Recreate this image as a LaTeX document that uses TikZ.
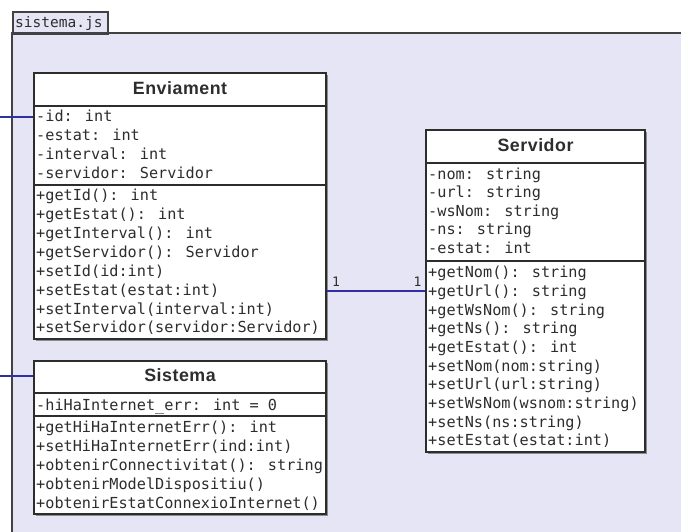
\documentclass[tikz,border=0pt]{standalone}
\usepackage{fontspec}
\newfontfamily\monof{DejaVu Sans Mono}
\newfontfamily\headf[LetterSpace=3]{Liberation Sans}
\definecolor{pkgfill}{RGB}{229,229,245}
\definecolor{assoc}{RGB}{48,48,160}
\definecolor{ink}{RGB}{45,45,45}
\tikzset{
  pkgline/.style={draw=ink!90, line width=1.6pt},
  classbox/.style={draw=ink, line width=1.3pt, fill=white, inner sep=0pt, rectangle},
  shadowbox/.style={fill=black!45, inner sep=0pt, rectangle},
  sepline/.style={draw=ink, line width=1.3pt},
  member/.style={anchor=base west, inner sep=0pt, text=ink, font=\monof\fontsize{15.2}{18}\selectfont},
  classname/.style={anchor=base, inner sep=0pt, text=ink, font=\headf\bfseries\fontsize{17.8}{20}\selectfont},
  multi/.style={anchor=base west, inner sep=0pt, text=ink, font=\monof\fontsize{13}{15}\selectfont},
  assocline/.style={draw=assoc, line width=1.4pt},
}
\begin{document}
\begin{tikzpicture}[x=1pt,y=-1pt]
\useasboundingbox (0,0) rectangle (681,532);
\fill[white] (0,0) rectangle (681,532);

% package sistema.js
\fill[pkgfill] (12,33) rectangle (681,532);
\node[pkgline, fill=pkgfill, rectangle, inner sep=0pt, minimum width=95pt, minimum height=22pt, anchor=north west] (tab) at (12,11) {};
\node[member, font=\monof\fontsize{14.5}{17}\selectfont] (tabname) at (15,28) {sistema.js};
\draw[pkgline] (681,33) -- (12,33) -- (12,532);

% class boxes with their drop shadows
\node[shadowbox, minimum width=292pt, minimum height=266pt] at (182,208) {};
\node[shadowbox, minimum width=292pt, minimum height=153pt] at (182,439.5) {};
\node[shadowbox, minimum width=219pt, minimum height=322pt] at (537.5,293) {};
\node[classbox, minimum width=292pt, minimum height=266pt] (env) at (180,206) {};
\node[classbox, minimum width=292pt, minimum height=153pt] (sis) at (180,437.5) {};
\node[classbox, minimum width=219pt, minimum height=322pt] (srv) at (535.5,291) {};

% compartments
\draw[sepline] (env.west |- 0,106) -- (env.east |- 0,106);
\draw[sepline] (env.west |- 0,185) -- (env.east |- 0,185);
\draw[sepline] (sis.west |- 0,393) -- (sis.east |- 0,393);
\draw[sepline] (sis.west |- 0,416) -- (sis.east |- 0,416);
\draw[sepline] (srv.west |- 0,163) -- (srv.east |- 0,163);
\draw[sepline] (srv.west |- 0,261) -- (srv.east |- 0,261);

% class names
\node[classname] (envname) at (180,95) {Enviament};
\node[classname] (sisname) at (180,381.5) {Sistema};
\node[classname] (srvname) at (535.5,151.5) {Servidor};

% Enviament members
\foreach \t [count=\i from 0] in {-id: int,-estat: int,-interval: int,-servidor: Servidor}
  \node[member] (env-a\i) at (36,{122+18.7*\i}) {\t};
\foreach \t [count=\i from 0] in {+getId(): int,+getEstat(): int,+getInterval(): int,+getServidor(): Servidor,+setId(id:int),+setEstat(estat:int),+setInterval(interval:int),+setServidor(servidor:Servidor)}
  \node[member] (env-m\i) at (36,{201+18.85*\i}) {\t};

% Sistema members
\node[member] (sis-a0) at (36,410) {-hiHaInternet\_err: int = 0};
\foreach \t [count=\i from 0] in {+getHiHaInternetErr(): int,+setHiHaInternetErr(ind:int),+obtenirConnectivitat(): string,+obtenirModelDispositiu(),+obtenirEstatConnexioInternet()}
  \node[member] (sis-m\i) at (36,{432.3+19*\i}) {\t};

% Servidor members
\foreach \t [count=\i from 0] in {-nom: string,-url: string,-wsNom: string,-ns: string,-estat: int}
  \node[member] (srv-a\i) at (428,{179.3+18.5*\i}) {\t};
\foreach \t [count=\i from 0] in {+getNom(): string,+getUrl(): string,+getWsNom(): string,+getNs(): string,+getEstat(): int,+setNom(nom:string),+setUrl(url:string),+setWsNom(wsnom:string),+setNs(ns:string),+setEstat(estat:int)}
  \node[member] (srv-m\i) at (428,{277.7+18.67*\i}) {\t};

% associations
\draw[assocline] (srv.west -| env.east) -- (srv.west);
\node[multi] (mulenv) at (332,287) {1};
\node[multi] (mulsrv) at (413.5,287) {1};
\coordinate (envin) at (0,117);
\coordinate (sisin) at (0,376);
\draw[assocline] (envin) -- (envin -| env.west);
\draw[assocline] (sisin) -- (sisin -| sis.west);
\end{tikzpicture}
\end{document}
